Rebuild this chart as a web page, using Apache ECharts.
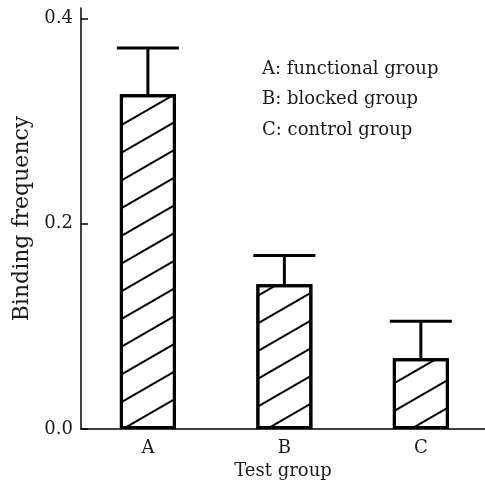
<!DOCTYPE html>
<html>
<head>
<meta charset="utf-8">
<script src="https://cdn.jsdelivr.net/npm/echarts@6/dist/echarts.min.js"></script>
<style>
html,body{margin:0;padding:0;background:#fff;}
#chart{width:485px;height:489px;}
</style>
</head>
<body>
<div id="chart"></div>
<script>
const categories = ['A', 'B', 'C'];
const values = [0.326, 0.141, 0.069];
const upperErr = [0.371, 0.169, 0.105];
const yTicks = [0, 0.2, 0.4];
const notes = ['A: functional group', 'B: blocked group', 'C: control group'];

const FONT = 'DejaVu Serif';
const TXT = '#1a1a1a';

const chart = echarts.init(document.getElementById('chart'), null, {renderer: 'canvas'});

const barData = categories.map((c, i) => [i, values[i]]);
const errData = categories.map((c, i) => [i, values[i], upperErr[i]]);
const catPos = categories.map((c, i) => i);

const option = {
  animation: false,
  backgroundColor: '#fff',
  grid: {left: 81, top: 8, right: 0, bottom: 60, containLabel: false},
  xAxis: {
    type: 'value',
    min: -0.49,
    max: 2.47,
    name: 'Test group',
    nameLocation: 'middle',
    nameGap: 28,
    nameTextStyle: {fontFamily: FONT, fontSize: 18, color: TXT},
    splitLine: {show: false},
    axisLine: {show: true, onZero: false, lineStyle: {color: '#000', width: 1.5}},
    axisTick: {show: false},
    axisLabel: {fontFamily: FONT, fontSize: 18, color: TXT, margin: 10, customValues: catPos,
      formatter: v => categories[Math.round(v)] || ''}
  },
  yAxis: {
    type: 'value',
    min: 0,
    max: 0.41,
    interval: 0.2,
    name: 'Binding frequency',
    nameLocation: 'middle',
    nameGap: 48,
    nameTextStyle: {fontFamily: FONT, fontSize: 22, color: TXT},
    splitLine: {show: false},
    axisLine: {show: true, onZero: false, lineStyle: {color: '#000', width: 1.5}},
    axisTick: {show: true, inside: true, length: 7, customValues: yTicks, lineStyle: {color: '#000', width: 1.5}},
    axisLabel: {fontFamily: FONT, fontSize: 18, color: TXT, margin: 8, customValues: yTicks,
      formatter: v => v.toFixed(1)}
  },
  series: [
    {
      type: 'bar',
      data: barData,
      barWidth: 56,
      itemStyle: {
        color: '#fff',
        borderColor: '#000',
        borderWidth: 3,
        decal: {
          symbol: 'rect',
          symbolSize: 1,
          color: '#000',
          dashArrayX: [1, 0],
          dashArrayY: [2, 21.5],
          rotation: -Math.PI / 6
        }
      },
      z: 2
    },
    {
      type: 'custom',
      data: errData,
      z: 3,
      renderItem: function (params, api) {
        const idx = api.value(0);
        const low = api.coord([idx, api.value(1)]);
        const high = api.coord([idx, api.value(2)]);
        const halfCap = 31;
        return {
          type: 'group',
          children: [
            {type: 'line', shape: {x1: low[0], y1: low[1], x2: high[0], y2: high[1]},
             style: {stroke: '#000', lineWidth: 3}},
            {type: 'line', shape: {x1: high[0] - halfCap, y1: high[1], x2: high[0] + halfCap, y2: high[1]},
             style: {stroke: '#000', lineWidth: 3}}
          ]
        };
      }
    }
  ],
  graphic: notes.map((t, i) => ({
    type: 'text',
    left: 262,
    top: 60 + i * 30.5,
    style: {text: t, fontFamily: FONT, fontSize: 18, fill: TXT}
  }))
};

chart.setOption(option);
</script>
</body>
</html>
